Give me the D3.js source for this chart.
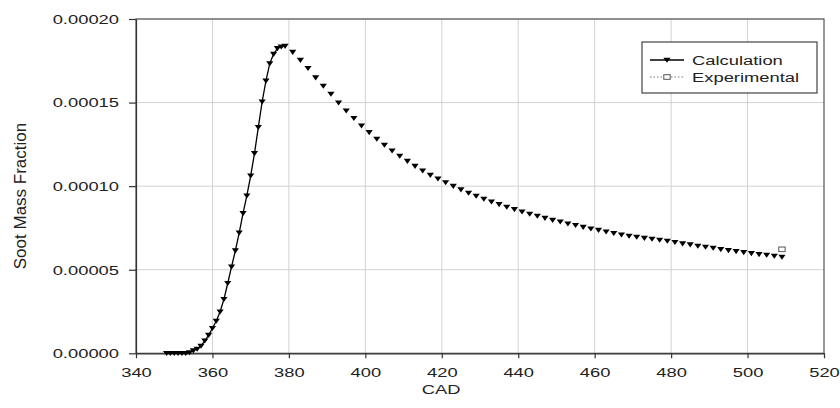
<!DOCTYPE html>
<html>
<head>
<meta charset="utf-8">
<script src="https://cdn.jsdelivr.net/npm/d3@7"></script>
<style>
  body { margin: 0; background: #fff; }
  svg { display: block; }
  text { font-family: "Liberation Sans", Arial, sans-serif; fill: #222; }
</style>
</head>
<body>
<svg id="chart" width="840" height="408"></svg>
<script>
// crank angle (deg) of each calculated point
const calcCad = [348, 349, 350, 351, 352, 353, 354, 355, 356, 357, 358, 359, 360, 361, 362, 363,
	364, 365, 366, 367, 368, 369, 370, 371, 372, 373, 374, 375, 376, 377, 378, 379,
	381, 383, 385, 387, 389, 391, 393, 395, 397, 399, 401, 403, 405, 407, 409, 411,
	413, 415, 417, 419, 421, 423, 425, 427, 429, 431, 433, 435, 437, 439, 441, 443,
	445, 447, 449, 451, 453, 455, 457, 459, 461, 463, 465, 467, 469, 471, 473, 475,
	477, 479, 481, 483, 485, 487, 489, 491, 493, 495, 497, 499, 501, 503, 505, 507, 509];
// soot mass fraction, in units of 1e-5
const calcSoot = [0, 0, 0, 0, 0, 0, 0.05, 0.16, 0.26, 0.44, 0.75, 1.09, 1.5, 1.93, 2.49, 3.23,
	4.19, 5.18, 6.14, 7.21, 8.37, 9.43, 10.62, 11.96, 13.52, 15.05, 16.3, 17.34, 17.9, 18.24, 18.34, 18.38,
	18.02, 17.54, 17.05, 16.49, 15.99, 15.51, 14.99, 14.51, 14.06, 13.61, 13.22, 12.82, 12.46, 12.12, 11.8, 11.5,
	11.2, 10.92, 10.66, 10.44, 10.22, 10.0, 9.79, 9.59, 9.41, 9.23, 9.07, 8.91, 8.75, 8.61, 8.47, 8.33,
	8.21, 8.09, 7.97, 7.87, 7.75, 7.66, 7.55, 7.45, 7.37, 7.27, 7.18, 7.09, 7.02, 6.96, 6.89, 6.84,
	6.78, 6.72, 6.64, 6.56, 6.5, 6.42, 6.36, 6.3, 6.22, 6.16, 6.1, 6.04, 5.98, 5.92, 5.88, 5.82, 5.76];
const expCad = [509];
const expSoot = [6.22];

const xTicks = [340, 360, 380, 400, 420, 440, 460, 480, 500, 520];
const yTicks = [0, 0.00005, 0.00010, 0.00015, 0.00020];
const seriesNames = ["Calculation", "Experimental"];
const xTitle = "CAD";
const yTitle = "Soot Mass Fraction";

const calcData = calcCad.map((c, i) => [c, calcSoot[i] * 1e-5]);
const expData = expCad.map((c, i) => [c, expSoot[i] * 1e-5]);

const svg = d3.select("#chart");
const plotL = 136, plotR = 824, plotT = 19, plotB = 353.3;
const k = 1.36; // text in the picture is drawn wide

const x = d3.scaleLinear().domain([340, 520]).range([plotL, plotR]);
const y = d3.scaleLinear().domain([0, 0.0002]).range([plotB, plotT]);

// grid
svg.append("g")
	.selectAll("line")
	.data(xTicks.slice(1, -1))
	.enter()
	.append("line")
	.attr("x1", d => x(d)).attr("x2", d => x(d))
	.attr("y1", plotT).attr("y2", plotB)
	.attr("stroke", "#d2d2d2");
svg.append("g")
	.selectAll("line")
	.data(yTicks.slice(1))
	.enter()
	.append("line")
	.attr("x1", plotL).attr("x2", plotR)
	.attr("y1", d => y(d)).attr("y2", d => y(d))
	.attr("stroke", "#d2d2d2");

// frame
svg.append("rect")
	.attr("x", plotL).attr("y", plotT)
	.attr("width", plotR - plotL).attr("height", plotB - plotT)
	.attr("fill", "none")
	.attr("stroke", "#555")
	.attr("stroke-width", 1.2);

// axes
const yAxis = svg.append("g")
	.attr("transform", `translate(${plotL},0)`)
	.call(d3.axisLeft(y).tickValues(yTicks).tickFormat(d3.format(".5f")).tickSize(7).tickSizeOuter(0));
yAxis.selectAll("text")
	.attr("x", -17 / k)
	.attr("transform", `scale(${k},1)`)
	.style("font-size", "13.5px");

const xAxis = svg.append("g")
	.attr("transform", `translate(0,${plotB})`)
	.call(d3.axisBottom(x).tickValues(xTicks).tickFormat(d3.format("d")).tickSize(5).tickSizeOuter(0));
xAxis.selectAll("text")
	.attr("y", 23.5).attr("dy", 0)
	.attr("transform", `scale(${k},1)`)
	.style("font-size", "13.5px");
svg.selectAll(".domain, .tick line").attr("stroke", "#333").attr("stroke-width", 1.2);
svg.selectAll(".tick text").attr("fill", "#222");

// titles
svg.append("text")
	.attr("transform", `translate(441,394) scale(${k},1)`)
	.attr("text-anchor", "middle")
	.style("font-size", "13.5px")
	.text(xTitle);
svg.append("text")
	.attr("transform", "translate(26,196) rotate(-90)")
	.attr("text-anchor", "middle")
	.style("font-size", "17px")
	.text(yTitle);

// calculation series - the joining line only shows up to the peak
const tri = "M-3.6,-2.3L3.6,-2.3L0,2.8Z";
const peakCad = calcCad[d3.maxIndex(calcSoot)];
svg.append("path")
	.datum(calcData.filter(d => d[0] <= peakCad))
	.attr("fill", "none")
	.attr("stroke", "#000")
	.attr("stroke-width", 1.3)
	.attr("d", d3.line().x(d => x(d[0])).y(d => y(d[1])));
svg.append("g")
	.selectAll("path")
	.data(calcData)
	.enter()
	.append("path")
	.attr("d", tri)
	.attr("transform", d => `translate(${x(d[0])},${y(d[1])})`)
	.attr("fill", "#000");

// experimental series
svg.append("g")
	.selectAll("rect")
	.data(expData)
	.enter()
	.append("rect")
	.attr("x", d => x(d[0]) - 3.2)
	.attr("y", d => y(d[1]) - 2.3)
	.attr("width", 6.4).attr("height", 4.6)
	.attr("fill", "#fff")
	.attr("stroke", "#555")
	.attr("stroke-width", 1);

// legend
const lg = svg.append("g");
lg.append("rect")
	.attr("x", 642).attr("y", 42)
	.attr("width", 175).attr("height", 51)
	.attr("fill", "#fff")
	.attr("stroke", "#444")
	.attr("stroke-width", 1.2);
lg.append("line")
	.attr("x1", 650).attr("x2", 684).attr("y1", 60).attr("y2", 60)
	.attr("stroke", "#000").attr("stroke-width", 1.3);
lg.append("path")
	.attr("d", tri)
	.attr("transform", "translate(667,60)");
lg.append("line")
	.attr("x1", 650).attr("x2", 684).attr("y1", 77).attr("y2", 77)
	.attr("stroke", "#777").attr("stroke-width", 1.2)
	.attr("stroke-dasharray", "1.5,2");
lg.append("rect")
	.attr("x", 663.8).attr("y", 74.7)
	.attr("width", 6.4).attr("height", 4.6)
	.attr("fill", "#fff").attr("stroke", "#555");
lg.selectAll("text.lab")
	.data(seriesNames)
	.enter()
	.append("text")
	.attr("class", "lab")
	.attr("transform", (d, i) => `translate(692,${64.5 + i * 17.5}) scale(${k},1)`)
	.style("font-size", "13.5px")
	.text(d => d);
</script>
</body>
</html>
